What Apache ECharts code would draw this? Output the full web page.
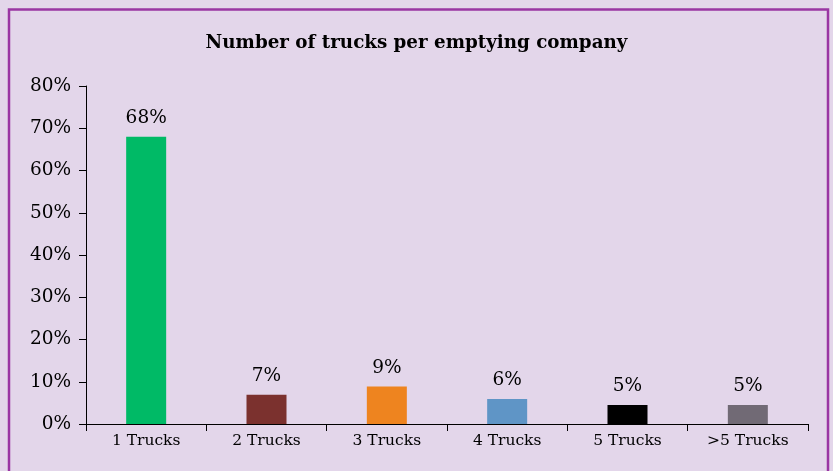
<!DOCTYPE html>
<html><head><meta charset="utf-8">
<script src="https://cdn.jsdelivr.net/npm/echarts@6.0.0/dist/echarts.min.js"></script>
<style>html,body{margin:0;padding:0;background:#E3D6EA;}#c{width:833px;height:471px;}</style>
</head><body><div id="c"></div>
<script>
const categories = ['1 Trucks','2 Trucks','3 Trucks','4 Trucks','5 Trucks','>5 Trucks'];
const values = [68, 6.9, 8.9, 5.9, 4.5, 4.5];
const barColors = ['#00BA66','#7B312E','#EE841F','#5F95C6','#000000','#716A75'];
const yTicks = [0,10,20,30,40,50,60,70,80];
const FONT = 'DejaVu Serif';
const chart = echarts.init(document.getElementById('c'));
chart.setOption({
  backgroundColor: '#E3D6EA',
  animation: false,
  title: {
    text: 'Number of trucks per emptying company',
    left: 'center', top: 29,
    textStyle: {fontFamily: FONT, fontWeight: 'bold', fontSize: 18.3, color: '#000'}
  },
  graphic: [
    {type: 'polyline', shape: {points: [[9,475],[9,9.5],[828,9.5],[828,475]]},
     style: {stroke: '#9A36A3', lineWidth: 2.5, fill: null}, silent: true}
  ],
  grid: {left: 86, right: 25, top: 86, bottom: 47},
  xAxis: {
    type: 'category', data: categories,
    axisLine: {lineStyle: {color: '#000', width: 1}},
    axisTick: {show: true, alignWithLabel: false, length: 7, lineStyle: {color: '#000'}},
    axisLabel: {fontFamily: FONT, fontSize: 15.5, color: '#000', margin: 9}
  },
  yAxis: {
    type: 'value', min: 0, max: 80, interval: 10,
    splitLine: {show: false},
    axisLine: {show: true, lineStyle: {color: '#000', width: 1}},
    axisTick: {show: true, length: 7, lineStyle: {color: '#000'}},
    axisLabel: {fontFamily: FONT, fontSize: 18.5, color: '#000', margin: 15,
      formatter: v => yTicks.includes(v) ? v + '%' : ''}
  },
  series: [{
    type: 'bar', barWidth: 40,
    data: values.map((v, i) => ({value: v, itemStyle: {color: barColors[i]}})),
    label: {show: true, position: 'top', distance: 9, fontFamily: FONT, fontSize: 18.5, color: '#000',
      formatter: p => Math.round(p.value) + '%'}
  }]
});
</script></body></html>
